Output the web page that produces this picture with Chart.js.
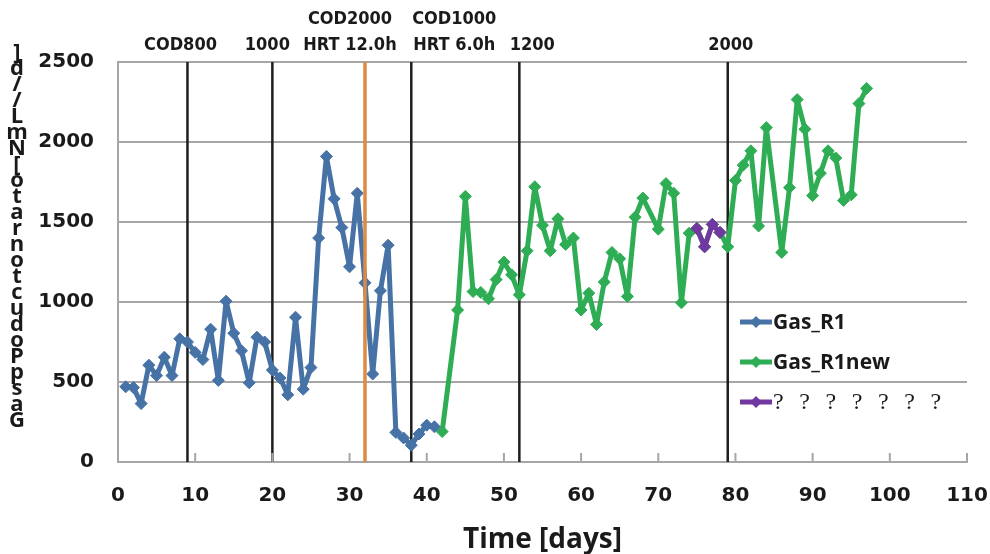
<!DOCTYPE html>
<html>
<head>
<meta charset="utf-8">
<script src="https://cdn.jsdelivr.net/npm/chart.js@4.4.1/dist/chart.umd.min.js"></script>
<style>
  html, body { margin: 0; padding: 0; background: #fff; }
</style>
</head>
<body>
<canvas id="gas-chart" width="990" height="554"></canvas>
<script>
// --- data ---
var r1Days = [1, 2, 3, 4, 5, 6, 7, 8, 9, 10, 11, 12, 13, 14, 15, 16, 17, 18, 19, 20,
              21, 22, 23, 24, 25, 26, 27, 28, 29, 30, 31, 32, 33, 34, 35, 36, 37, 38, 39, 40, 41];
var r1Gas  = [470, 465, 365, 605, 540, 655, 540, 770, 750, 685, 640, 830, 510, 1005, 805, 695, 495, 780, 750, 575,
              525, 420, 905, 455, 590, 1400, 1910, 1645, 1465, 1220, 1680, 1120, 550, 1070, 1355, 185, 150, 105, 175, 230, 220];

var newDays = [42, 44, 45, 46, 47, 48, 49, 50, 51, 52, 53, 54, 55, 56, 57, 58, 59, 60, 61, 62,
               63, 64, 65, 66, 67, 68, 70, 71, 72, 73, 74, 75, 76, 77, 78, 79, 80, 81, 82, 83,
               84, 86, 87, 88, 89, 90, 91, 92, 93, 94, 95, 96, 97];
var newGas  = [190, 950, 1660, 1065, 1060, 1020, 1140, 1250, 1170, 1045, 1320, 1720, 1480, 1320, 1520, 1360, 1400, 950, 1055, 860,
               1125, 1310, 1270, 1035, 1530, 1650, 1455, 1740, 1680, 995, 1430, 1460, 1345, 1485, 1435, 1345, 1760, 1855, 1945, 1475,
               2090, 1310, 1715, 2265, 2080, 1665, 1805, 1945, 1900, 1635, 1670, 2240, 2335];

var unkDays = [75, 76, 77, 78];
var unkGas  = [1460, 1345, 1485, 1435];

var seriesNames  = ['Gas_R1', 'Gas_R1new', '? ? ? ? ? ? ?'];
var seriesColors = ['#4672a6', '#2fad55', '#7038a0'];

// condition changes (vertical lines) and their captions
var changeDays   = [9, 20, 32, 38, 52, 79];
var changeLabels = [['COD800'], ['1000'], ['COD2000', 'HRT 12.0h'], ['COD1000', 'HRT 6.0h'], ['1200'], ['2000']];

var yMin = 0, yMax = 2500, yStep = 500;
var xMin = 0, xMax = 110, xStep = 10;

var yTitleChars = [']', 'd', '/', '/', 'L', 'm', 'N', '[', 'o', 't', 'a', 'r',
                   'n', 'o', 't', 'c', 'u', 'd', 'o', 'P', 'p', 's', 'a', 'G'];

function pts(xs, ys) {
  return xs.map(function(x, i) { return { x: x, y: ys[i] }; });
}

var BOLD = "'Open Sans', 'DejaVu Sans', sans-serif";
var TICKFONT = "'DejaVu Sans', 'Open Sans', sans-serif";

var datasets = [
  { label: seriesNames[0], data: pts(r1Days, r1Gas), order: 2 },
  { label: seriesNames[1], data: pts(newDays, newGas), order: 3 },
  { label: seriesNames[2], data: pts(unkDays, unkGas), order: 1 }
].map(function(ds, i) {
  ds.borderColor = seriesColors[i];
  ds.backgroundColor = seriesColors[i];
  ds.borderWidth = 5;
  ds.borderJoinStyle = 'round';
  ds.pointStyle = 'rectRot';
  ds.pointRadius = 6;
  ds.pointBorderWidth = 1;
  ds.tension = 0;
  return ds;
});

changeDays.forEach(function(d, i) {
  var orange = i === 2;
  datasets.push({
    label: 'marker' + i,
    data: [{ x: d, y: yMin }, { x: d, y: yMax }],
    borderColor: orange ? '#dd8a44' : '#1e1e1e',
    borderWidth: orange ? 3.5 : 2.5,
    pointRadius: 0,
    order: orange ? 0 : 10
  });
});

// short ticks pointing up into the plot on the x axis
var innerTicks = {
  id: 'innerTicks',
  afterDatasetsDraw: function(chart) {
    var ctx = chart.ctx, xs = chart.scales.x, a = chart.chartArea;
    ctx.save();
    ctx.strokeStyle = '#a6a6a6';
    ctx.lineWidth = 2;
    xs.ticks.forEach(function(t) {
      if (t.value === xMin) return;
      var px = xs.getPixelForValue(t.value);
      ctx.beginPath();
      ctx.moveTo(px, a.bottom);
      ctx.lineTo(px, a.bottom - 9);
      ctx.stroke();
    });
    ctx.restore();
  }
};

// captions above the vertical lines
var labelShift = [-7, -5, -15, 43, 13, 3];
var topLabels = {
  id: 'topLabels',
  afterDraw: function(chart) {
    var ctx = chart.ctx, xs = chart.scales.x;
    ctx.save();
    ctx.fillStyle = '#1a1a1a';
    ctx.font = "bold 18px 'Liberation Sans Narrow', 'DejaVu Sans Condensed', sans-serif";
    ctx.textAlign = 'center';
    ctx.textBaseline = 'middle';
    changeLabels.forEach(function(lines, i) {
      var px = xs.getPixelForValue(changeDays[i]) + labelShift[i];
      var y = 45;
      for (var k = lines.length - 1; k >= 0; k--) {
        ctx.fillText(lines[k], px, y);
        y -= 26;
      }
    });
    ctx.restore();
  }
};

// stacked y-axis title (characters upright, one under the other)
var yTitle = {
  id: 'yTitle',
  afterDraw: function(chart) {
    var ctx = chart.ctx;
    ctx.save();
    ctx.fillStyle = '#1a1a1a';
    ctx.font = 'bold 22px ' + BOLD;
    ctx.textAlign = 'center';
    ctx.textBaseline = 'middle';
    yTitleChars.forEach(function(c, i) {
      ctx.fillText(c, 17, 53 + i * 16);
    });
    ctx.restore();
  }
};

// legend inside the plot, line + diamond samples
var sideLegend = {
  id: 'sideLegend',
  afterDraw: function(chart) {
    var ctx = chart.ctx, a = chart.chartArea;
    ctx.save();
    seriesNames.forEach(function(name, i) {
      var x = a.right - 227, y = a.bottom - 140 + i * 40;
      ctx.strokeStyle = seriesColors[i];
      ctx.fillStyle = seriesColors[i];
      ctx.lineWidth = 5;
      ctx.beginPath();
      ctx.moveTo(x, y);
      ctx.lineTo(x + 32, y);
      ctx.stroke();
      ctx.beginPath();
      ctx.moveTo(x + 16, y - 6);
      ctx.lineTo(x + 22, y);
      ctx.lineTo(x + 16, y + 6);
      ctx.lineTo(x + 10, y);
      ctx.closePath();
      ctx.fill();
      ctx.fillStyle = '#1a1a1a';
      ctx.textAlign = 'left';
      ctx.textBaseline = 'middle';
      if (i === 2) {
        ctx.font = "24px 'Liberation Serif', 'DejaVu Serif', serif";
        ctx.letterSpacing = '4.8px';
      } else {
        ctx.font = 'bold 21px ' + BOLD;
        ctx.letterSpacing = '0px';
      }
      ctx.fillText(name, x + 33, y + 1);
    });
    ctx.restore();
  }
};

var chart = new Chart(document.getElementById('gas-chart').getContext('2d'), {
  type: 'line',
  data: { datasets: datasets },
  options: {
    responsive: false,
    animation: false,
    layout: { padding: { top: 62, right: 23, left: 0, bottom: 0 } },
    plugins: {
      legend: { display: false },
      tooltip: { enabled: false }
    },
    scales: {
      x: {
        type: 'linear',
        min: xMin, max: xMax,
        ticks: {
          stepSize: xStep,
          color: '#1a1a1a',
          font: { family: TICKFONT, size: 20, weight: 'bold' },
          padding: 22,
          maxRotation: 0
        },
        grid: { display: false, drawTicks: false },
        border: { display: true, color: '#a6a6a6', width: 2 },
        title: {
          display: true,
          text: 'Time [days]',
          color: '#1a1a1a',
          font: { family: BOLD, size: 28, weight: 'bold', lineHeight: 1.0 },
          padding: { top: 0, bottom: 0 }
        },
        afterFit: function(s) {
          s.height = 92;
          s.paddingLeft = 0;
          s.paddingRight = 0;
        }
      },
      y: {
        min: yMin, max: yMax,
        ticks: {
          stepSize: yStep,
          color: '#1a1a1a',
          font: { family: TICKFONT, size: 20, weight: 'bold' },
          padding: 24,
          callback: function(v) { return String(v); }
        },
        grid: { color: '#a6a6a6', lineWidth: 2, drawTicks: false },
        border: { display: true, color: '#a6a6a6', width: 2 },
        afterFit: function(s) { s.width = 118; }
      }
    }
  },
  plugins: [innerTicks, topLabels, yTitle, sideLegend]
});
</script>
</body>
</html>
